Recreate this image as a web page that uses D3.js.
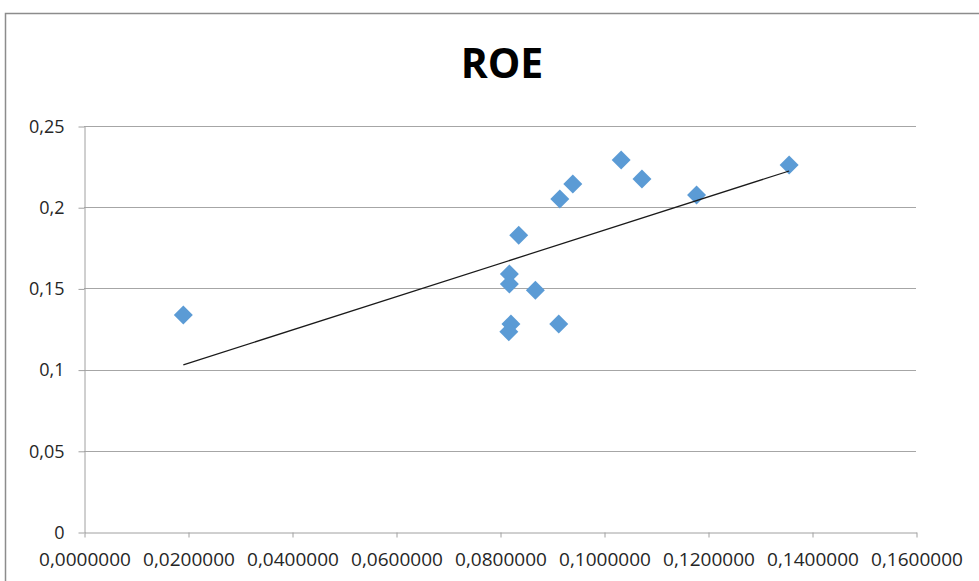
<!DOCTYPE html>
<html>
<head>
<meta charset="utf-8">
<script src="https://cdn.jsdelivr.net/npm/d3@7"></script>
<style>
  html, body { margin: 0; padding: 0; background: #fff; }
  svg { display: block; }
  text { font-family: "Open Sans", "DejaVu Sans", sans-serif; }
</style>
</head>
<body>
<svg id="chart" width="979" height="581"></svg>
<script>
// Scatter of ROE against the x ratio, with a linear trend line
const xValues = [0.0191, 0.0836, 0.0818, 0.0818, 0.0821, 0.0817, 0.0868,
                 0.0913, 0.0915, 0.0940, 0.1033, 0.1073, 0.1178, 0.1356];
const yValues = [0.1336, 0.1827, 0.1589, 0.1527, 0.1281, 0.1233, 0.1488,
                 0.1281, 0.2050, 0.2143, 0.2291, 0.2174, 0.2075, 0.2260];
const xTicks = [0, 0.02, 0.04, 0.06, 0.08, 0.10, 0.12, 0.14, 0.16];
const yTicks = [0, 0.05, 0.10, 0.15, 0.20, 0.25];
const title = "ROE";

const svg = d3.select("#chart");
const plotLeft = 84, plotRight = 916, plotTop = 126, plotBottom = 532;

// Chart frame
svg.append("rect")
  .attr("x", 5.5).attr("y", 13.5)
  .attr("width", 1200).attr("height", 1200)
  .attr("fill", "#fff")
  .attr("stroke", "#8c8c8c").attr("stroke-width", 1.5);

const x = d3.scaleLinear().domain([0, 0.16]).range([plotLeft, plotRight]);
const y = d3.scaleLinear().domain([0, 0.25]).range([plotBottom, plotTop]);

// Horizontal gridlines
svg.append("g")
  .selectAll("line")
  .data(yTicks.filter(d => d > 0))
  .join("line")
  .attr("x1", plotLeft).attr("x2", plotRight)
  .attr("y1", d => Math.round(y(d)) + 0.5).attr("y2", d => Math.round(y(d)) + 0.5)
  .attr("stroke", "#a6a6a6").attr("stroke-width", 1);

const fmtY = d => d3.format("~g")(+d.toFixed(2)).replace(".", ",");
const fmtX = d => d.toFixed(7).replace(".", ",");

// Y axis
const gy = svg.append("g")
  .attr("transform", `translate(${plotLeft + 0.5},0.5)`)
  .call(d3.axisLeft(y).tickValues(yTicks).tickFormat(fmtY).tickSize(6).tickPadding(14).tickSizeOuter(0));
gy.selectAll("path, line").attr("stroke", "#a0a0a0");
gy.selectAll("text")
  .attr("fill", "#262626")
  .style("font-size", "18px")
  .style("font-family", "'Open Sans', sans-serif");

// X axis
const gx = svg.append("g")
  .attr("transform", `translate(0.5,${plotBottom + 0.5})`)
  .call(d3.axisBottom(x).tickValues(xTicks).tickFormat(fmtX).tickSize(5).tickPadding(15).tickSizeOuter(0));
gx.selectAll("path, line").attr("stroke", "#a0a0a0");
gx.selectAll("text")
  .attr("fill", "#262626")
  .style("font-size", "19px")
  .style("font-family", "'Open Sans', sans-serif");

// Least-squares trend line across the data range
const n = xValues.length;
const mx = d3.mean(xValues), my = d3.mean(yValues);
let sxy = 0, sxx = 0;
for (let i = 0; i < n; i++) {
  sxy += (xValues[i] - mx) * (yValues[i] - my);
  sxx += (xValues[i] - mx) ** 2;
}
const slope = sxy / sxx, intercept = my - slope * mx;
const xMin = d3.min(xValues), xMax = d3.max(xValues);

// Markers: blue diamonds
const points = xValues.map((v, i) => ({ x: v, y: yValues[i] }));
svg.append("g")
  .selectAll("path")
  .data(points)
  .join("path")
  .attr("d", d3.symbol().type(d3.symbolSquare).size(180))
  .attr("transform", d => `translate(${x(d.x)},${y(d.y)}) rotate(45)`)
  .attr("fill", "#5b9bd5");

svg.append("line")
  .attr("x1", x(xMin)).attr("y1", y(intercept + slope * xMin))
  .attr("x2", x(xMax)).attr("y2", y(intercept + slope * xMax))
  .attr("stroke", "#1a1a1a").attr("stroke-width", 1.25);

// Title
svg.append("text")
  .attr("x", 502).attr("y", 78)
  .attr("text-anchor", "middle")
  .style("font-family", "'Open Sans', sans-serif")
  .style("font-weight", "700")
  .style("font-size", "41px")
  .attr("fill", "#000")
  .text(title);
</script>
</body>
</html>
